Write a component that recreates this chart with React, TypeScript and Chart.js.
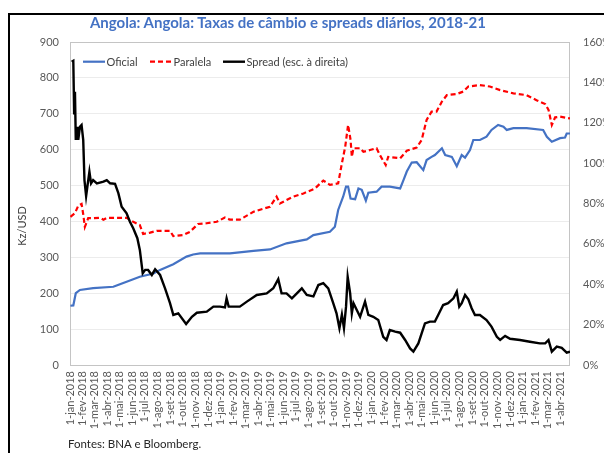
import React, { useEffect, useRef } from 'react';
import { Chart, registerables } from 'chart.js';

Chart.register(...registerables);

const FONT = 'Lato, "Open Sans", sans-serif';

const titleText = 'Angola: Angola: Taxas de câmbio e spreads diários, 2018-21';
const footerText = 'Fontes: BNA e Bloomberg.';
const yAxisTitle = 'Kz/USD';
const legendLabels = ['Oficial', 'Paralela', 'Spread (esc. à direita)'];

const xTickLabels = [
  '1-jan-2018', '1-fev-2018', '1-mar-2018', '1-abr-2018', '1-mai-2018', '1-jun-2018',
  '1-jul-2018', '1-ago-2018', '1-set-2018', '1-out-2018', '1-nov-2018', '1-dez-2018',
  '1-jan-2019', '1-fev-2019', '1-mar-2019', '1-abr-2019', '1-mai-2019', '1-jun-2019',
  '1-jul-2019', '1-ago-2019', '1-set-2019', '1-out-2019', '1-nov-2019', '1-dez-2019',
  '1-jan-2020', '1-fev-2020', '1-mar-2020', '1-abr-2020', '1-mai-2020', '1-jun-2020',
  '1-jul-2020', '1-ago-2020', '1-set-2020', '1-out-2020', '1-nov-2020', '1-dez-2020',
  '1-jan-2021', '1-fev-2021', '1-mar-2021', '1-abr-2021',
];
const xStartDate = '2018-01-01';
const xEndDate = '2021-04-25';

const leftMin = 0, leftMax = 900, leftStep = 100;
const rightMin = 0, rightMax = 160, rightStep = 20;

const oficialDates = [
  '2018-01-02', '2018-01-09', '2018-01-15', '2018-01-25', '2018-02-26', '2018-04-16', '2018-04-27',
  '2018-05-18', '2018-06-19', '2018-07-22', '2018-08-07', '2018-09-08', '2018-10-10', '2018-10-26',
  '2018-11-12', '2019-01-23', '2019-03-21', '2019-04-30', '2019-06-09', '2019-07-28', '2019-08-13',
  '2019-09-22', '2019-10-04', '2019-10-12', '2019-10-24', '2019-10-31', '2019-11-05', '2019-11-11',
  '2019-11-22', '2019-11-30', '2019-12-08', '2019-12-18', '2019-12-24', '2020-01-13', '2020-01-25',
  '2020-02-14', '2020-03-10', '2020-03-18', '2020-03-26', '2020-04-07', '2020-04-19', '2020-05-05',
  '2020-05-13', '2020-05-25', '2020-06-02', '2020-06-19', '2020-06-27', '2020-07-13', '2020-07-25',
  '2020-08-06', '2020-08-14', '2020-08-26', '2020-09-03', '2020-09-19', '2020-10-05', '2020-10-17',
  '2020-11-02', '2020-11-15', '2020-11-23', '2020-12-09', '2021-01-10', '2021-02-19', '2021-02-28',
  '2021-03-12', '2021-04-01', '2021-04-13', '2021-04-17', '2021-04-25',
];
const oficialValues = [
  165, 166, 200, 209, 214, 218, 223,
  232, 246, 255, 265, 281, 302, 308,
  311, 311, 318, 322, 339, 350, 362,
  371, 385, 432, 469, 497, 497, 464,
  462, 492, 488, 458, 480, 483, 497,
  497, 492, 515, 539, 564, 565, 543,
  571, 580, 585, 604, 585, 580, 554,
  585, 578, 599, 627, 627, 636, 655,
  669, 664, 655, 660, 660, 655, 636,
  622, 632, 634, 645, 645,
];

const paralelaDates = [
  '2018-01-02', '2018-01-13', '2018-01-21', '2018-01-29', '2018-02-02', '2018-02-06', '2018-02-14',
  '2018-02-26', '2018-03-15', '2018-03-23', '2018-03-31', '2018-05-18', '2018-06-03', '2018-06-19',
  '2018-06-27', '2018-07-14', '2018-07-30', '2018-08-31', '2018-09-08', '2018-10-02', '2018-10-18',
  '2018-11-07', '2018-11-28', '2018-12-22', '2019-01-11', '2019-01-23', '2019-02-16', '2019-03-21',
  '2019-04-30', '2019-05-16', '2019-05-24', '2019-06-25', '2019-07-20', '2019-08-17', '2019-09-06',
  '2019-09-22', '2019-10-12', '2019-10-21', '2019-10-29', '2019-11-05', '2019-11-11', '2019-11-14',
  '2019-11-18', '2019-12-04', '2019-12-12', '2019-12-28', '2020-01-13', '2020-01-21', '2020-02-04',
  '2020-02-10', '2020-03-10', '2020-03-26', '2020-04-19', '2020-05-01', '2020-05-13', '2020-05-25',
  '2020-06-06', '2020-06-19', '2020-07-01', '2020-07-25', '2020-08-10', '2020-08-22', '2020-09-19',
  '2020-10-13', '2020-11-07', '2020-12-09', '2021-01-10', '2021-02-03', '2021-02-24', '2021-03-04',
  '2021-03-12', '2021-03-20', '2021-04-01', '2021-04-25',
];
const paralelaValues = [
  413, 423, 444, 449, 420, 385, 409,
  409, 410, 405, 410, 410, 399, 390,
  365, 369, 374, 374, 359, 362, 371,
  393, 395, 399, 411, 405, 405, 427,
  441, 469, 450, 469, 478, 492, 514,
  502, 506, 562, 608, 669, 627, 580,
  604, 604, 594, 599, 604, 585, 557,
  580, 576, 597, 606, 627, 683, 706,
  706, 734, 752, 755, 762, 776, 780,
  776, 766, 757, 752, 738, 727, 711,
  669, 690, 692, 687,
];

const spreadDates = [
  '2018-01-05', '2018-01-09', '2018-01-11', '2018-01-13', '2018-01-15', '2018-01-19', '2018-01-21',
  '2018-01-25', '2018-01-29', '2018-02-02', '2018-02-05', '2018-02-09', '2018-02-12', '2018-02-17',
  '2018-02-21', '2018-02-26', '2018-03-07', '2018-03-23', '2018-03-31', '2018-04-08', '2018-04-20',
  '2018-04-28', '2018-05-06', '2018-05-18', '2018-05-26', '2018-06-03', '2018-06-13', '2018-06-19',
  '2018-06-26', '2018-07-02', '2018-07-09', '2018-07-18', '2018-07-26', '2018-08-07', '2018-08-19',
  '2018-08-31', '2018-09-08', '2018-09-20', '2018-10-09', '2018-10-23', '2018-11-04', '2018-11-28',
  '2018-12-14', '2018-12-30', '2019-01-11', '2019-01-15', '2019-01-20', '2019-02-16', '2019-03-05',
  '2019-03-29', '2019-04-22', '2019-05-08', '2019-05-20', '2019-05-28', '2019-06-09', '2019-06-22',
  '2019-07-04', '2019-07-16', '2019-07-28', '2019-08-13', '2019-08-25', '2019-09-06', '2019-09-18',
  '2019-09-30', '2019-10-08', '2019-10-15', '2019-10-21', '2019-10-26', '2019-10-31', '2019-11-04',
  '2019-11-10', '2019-11-14', '2019-11-18', '2019-11-26', '2019-12-04', '2019-12-16', '2019-12-24',
  '2020-01-05', '2020-01-17', '2020-01-29', '2020-02-06', '2020-02-14', '2020-02-27', '2020-03-10',
  '2020-03-22', '2020-04-03', '2020-04-11', '2020-04-23', '2020-05-01', '2020-05-09', '2020-05-21',
  '2020-06-02', '2020-06-10', '2020-06-22', '2020-07-04', '2020-07-17', '2020-07-25', '2020-07-31',
  '2020-08-06', '2020-08-14', '2020-08-22', '2020-08-30', '2020-09-07', '2020-09-19', '2020-10-05',
  '2020-10-17', '2020-10-30', '2020-11-07', '2020-11-19', '2020-12-01', '2020-12-25', '2021-01-18',
  '2021-02-11', '2021-02-24', '2021-03-04', '2021-03-12', '2021-03-24', '2021-04-05', '2021-04-17',
  '2021-04-25',
];
const spreadValues = [
  150.2, 150.7, 124.7, 135.4, 111.5, 118, 111.5,
  118, 118.9, 111.5, 91.6, 83.7, 88.3, 95.8,
  90, 91.6, 90, 90.8, 91.6, 90, 89.7,
  85.1, 78.4, 75.1, 71, 67.7, 62.8, 57,
  45.4, 47.1, 47.1, 44.6, 47.4, 44.6, 38,
  30.6, 24.8, 25.6, 20.3, 23.9, 25.9, 26.4,
  28.9, 28.9, 28.5, 33, 29, 28.9, 31.4,
  34.7, 35.5, 38, 42.5, 35.5, 35.5, 33,
  35.5, 38, 34.7, 34, 39.6, 40.5, 38,
  30.6, 25.6, 18.2, 25, 18.2, 28.9, 43.7,
  35.5, 25.6, 30.6, 27.2, 23.9, 31.4, 24.8,
  23.9, 22.3, 14, 12.4, 17.3, 16.5, 16,
  12.4, 8.2, 6.6, 10.7, 15.7, 20.6, 21.5,
  21.5, 24.8, 29.7, 30.6, 33, 36.3, 28.9,
  30.6, 34.7, 32.5, 28.1, 24.8, 24.8, 22.3,
  19, 14, 12.4, 14.4, 13, 12.4, 11.5,
  10.7, 10.7, 12.4, 6.6, 9.1, 8.5, 6.1,
  6.6,
];

const PT_MONTHS = ['jan', 'fev', 'mar', 'abr', 'mai', 'jun', 'jul', 'ago', 'set', 'out', 'nov', 'dez'];

function dayIndex(iso: string): number {
  const [y, m, d] = iso.split('-').map(Number);
  const [y0, m0, d0] = xStartDate.split('-').map(Number);
  return (Date.UTC(y, m - 1, d) - Date.UTC(y0, m0 - 1, d0)) / 86400000;
}

function labelDay(label: string): number {
  const [d, mon, y] = label.split('-');
  const m = PT_MONTHS.indexOf(mon) + 1;
  return dayIndex(`${y}-${String(m).padStart(2, '0')}-${d.padStart(2, '0')}`);
}

function toPoints(dates: string[], values: number[]) {
  return dates.map((d, i) => ({ x: dayIndex(d), y: values[i] }));
}

const overlayPlugin = {
  id: 'overlay',
  beforeDatasetsDraw(chart: any) {
    const { ctx, chartArea } = chart;
    const { left, top, right, bottom } = chartArea;
    ctx.save();
    ctx.strokeStyle = '#c4c4c4';
    ctx.lineWidth = 1;
    ctx.strokeRect(Math.round(left) + 0.5, Math.round(top) + 0.5, Math.round(right - left) - 1, Math.round(bottom - top));
    ctx.restore();
  },
  afterDraw(chart: any) {
    const { ctx, chartArea } = chart;
    ctx.save();
    const y1 = chart.scales.y1;
    ctx.font = `11px ${FONT}`;
    ctx.fillStyle = '#595959';
    ctx.textAlign = 'left';
    ctx.textBaseline = 'middle';
    for (let v = rightMin; v <= rightMax; v += rightStep) {
      ctx.fillText(`${v}%`, chartArea.right + 13, y1.getPixelForValue(v));
    }
    const ly = 46.7;
    const items = [
      { x: 73, color: '#4472C4', dash: [] as number[], width: 2.2 },
      { x: 140, color: '#FF0000', dash: [5, 3], width: 2.2 },
      { x: 213, color: '#000000', dash: [] as number[], width: 2.4 },
    ];
    items.forEach((it, i) => {
      ctx.beginPath();
      ctx.setLineDash(it.dash);
      ctx.strokeStyle = it.color;
      ctx.lineWidth = it.width;
      ctx.moveTo(it.x, ly);
      ctx.lineTo(it.x + 22, ly);
      ctx.stroke();
      ctx.setLineDash([]);
      ctx.fillStyle = '#404040';
      ctx.fillText(legendLabels[i], it.x + 23.5, ly + 0.5);
    });
    ctx.translate(12, 211);
    ctx.rotate(-Math.PI / 2);
    ctx.textAlign = 'center';
    ctx.fillStyle = '#404040';
    ctx.fillText(yAxisTitle, 0, 0);
    ctx.restore();
  },
};

export default function App() {
  const canvasRef = useRef<HTMLCanvasElement | null>(null);

  useEffect(() => {
    const canvas = canvasRef.current;
    if (!canvas) return;
    const tickDays = xTickLabels.map(labelDay);
    const tickFont = { family: FONT, size: 11 };
    const chart = new Chart(canvas, {
      type: 'line',
      data: {
        datasets: [
          {
            label: legendLabels[2],
            data: toPoints(spreadDates, spreadValues),
            yAxisID: 'y1',
            borderColor: '#000000',
            borderWidth: 2.4,
            pointRadius: 0,
            tension: 0,
            order: 0,
          },
          {
            label: legendLabels[0],
            data: toPoints(oficialDates, oficialValues),
            yAxisID: 'y',
            borderColor: '#4472C4',
            borderWidth: 2.2,
            pointRadius: 0,
            tension: 0,
            order: 1,
          },
          {
            label: legendLabels[1],
            data: toPoints(paralelaDates, paralelaValues),
            yAxisID: 'y',
            borderColor: '#FF0000',
            borderWidth: 2.2,
            borderDash: [5, 3],
            pointRadius: 0,
            tension: 0,
            order: 2,
          },
        ],
      },
      options: {
        animation: false,
        responsive: false,
        layout: { padding: { top: 27, left: 4, right: 0, bottom: 8 } },
        plugins: { legend: { display: false }, tooltip: { enabled: false }, title: { display: false } },
        scales: {
          x: {
            type: 'linear',
            min: 0,
            max: dayIndex(xEndDate),
            afterBuildTicks: (scale: any) => {
              scale.ticks = tickDays.map((v) => ({ value: v }));
            },
            afterFit: (scale: any) => {
              scale.height = 80;
            },
            ticks: {
              autoSkip: false,
              minRotation: 90,
              maxRotation: 90,
              padding: 6,
              color: '#595959',
              font: tickFont,
              callback: (_v: any, i: number) => xTickLabels[i],
            },
            grid: { display: false, drawTicks: false },
            border: { display: false },
          },
          y: {
            position: 'left',
            min: leftMin,
            max: leftMax,
            afterFit: (scale: any) => {
              scale.width = 56;
            },
            ticks: { stepSize: leftStep, padding: 11, color: '#595959', font: tickFont },
            grid: { color: '#ececec', lineWidth: 1, drawTicks: false },
            border: { display: false },
          },
          y1: {
            position: 'right',
            min: rightMin,
            max: rightMax,
            afterFit: (scale: any) => {
              scale.width = 34;
            },
            ticks: { stepSize: rightStep, display: false },
            grid: { display: false, drawTicks: false },
            border: { display: false },
          },
        },
      },
      plugins: [overlayPlugin],
    } as any);
    return () => chart.destroy();
  }, []);

  return (
    <div style={{ position: 'fixed', left: 8, top: 8, width: 596, height: 445, overflow: 'hidden', background: '#fff' }}>
      <style>{'html{overflow:hidden;background:#fff;}'}</style>
      <div
        style={{
          position: 'absolute',
          left: 0,
          top: 5,
          width: 640,
          height: 500,
          borderLeft: '2px solid #000',
          borderTop: '2px solid #000',
          boxSizing: 'border-box',
        }}
      />
      <canvas
        ref={canvasRef}
        width={594}
        height={438}
        style={{ position: 'absolute', left: 2, top: 7, width: 594, height: 438 }}
      />
      <div
        style={{
          position: 'absolute',
          left: 0,
          top: 5,
          width: 560,
          textAlign: 'center',
          font: `bold 15px ${FONT}`,
          lineHeight: '19px',
          color: '#4472C4',
          whiteSpace: 'nowrap',
        }}
      >
        {titleText}
      </div>
      <div
        style={{
          position: 'absolute',
          left: 60,
          top: 429,
          font: `11.5px ${FONT}`,
          lineHeight: '14px',
          color: '#262626',
          whiteSpace: 'nowrap',
        }}
      >
        {footerText}
      </div>
    </div>
  );
}
